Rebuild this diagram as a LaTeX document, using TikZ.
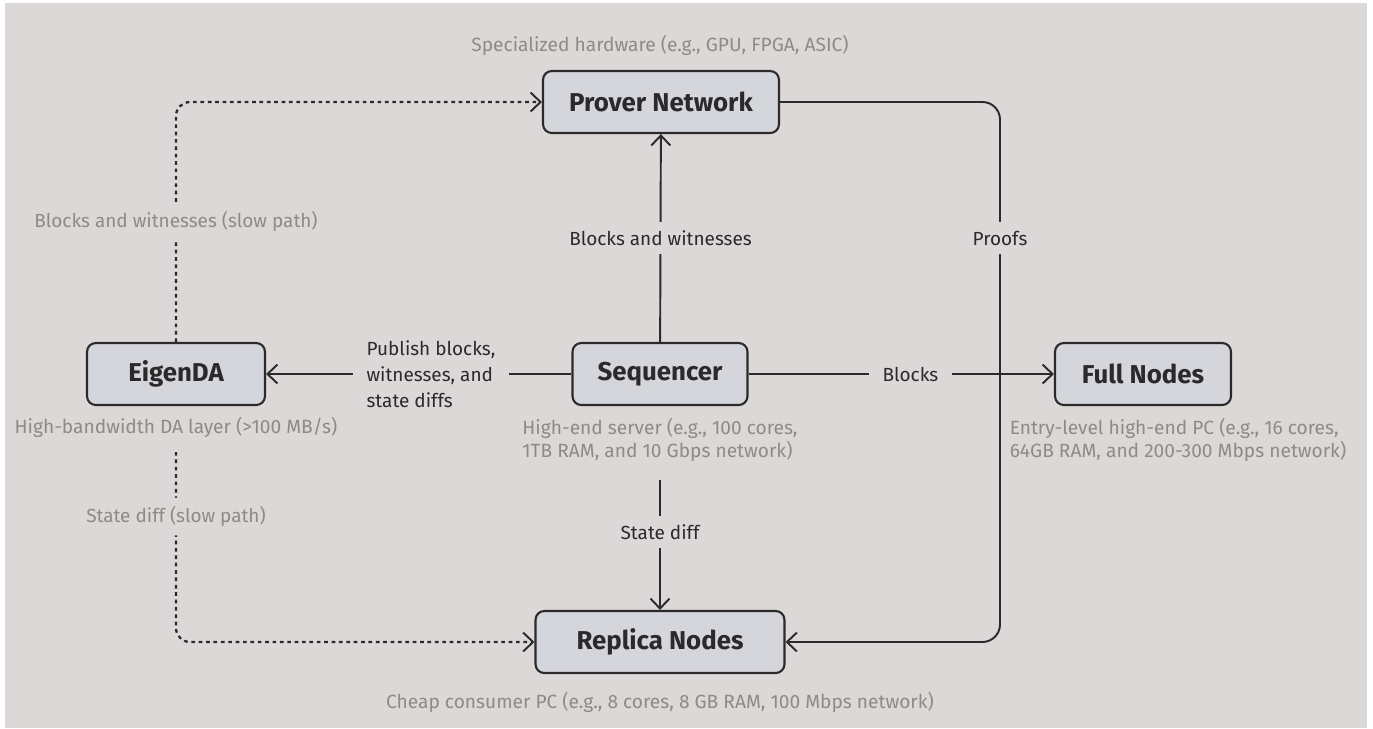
\documentclass[tikz,border=0pt]{standalone}
\usepackage{fontspec}
\setmainfont{Fira Sans}
\usetikzlibrary{arrows.meta}

\definecolor{bg}{HTML}{DCD8D7}
\definecolor{boxfill}{HTML}{D5D5DC}
\definecolor{ink}{HTML}{2A2A2A}
\definecolor{note}{HTML}{8E8A8A}

\begin{document}
\begin{tikzpicture}[
            x=0.02cm, y=-0.02cm,
            main node/.style={draw=ink, fill=boxfill, line width=1.2pt, rounded corners=5pt,
                minimum height=1.24cm, font=\fontsize{14.7}{17}\selectfont\bfseries, text=ink},
            note/.style={text=note, font=\fontsize{10.9}{13}\selectfont, inner sep=1pt},
            lbl/.style={fill=bg, text=ink, font=\fontsize{10.8}{14.8}\selectfont, inner sep=5pt},
            link/.style={draw=ink, line width=1.1pt, -{Straight Barb[length=2mm, width=3.8mm, line width=1.1pt]}},
            slow/.style={link, line width=1.3pt, dash pattern=on 2.1pt off 2.1pt, rounded corners=8pt},
            ]
            % canvas
            \fill[white] (0,0) rectangle (1373,728);
            \fill[bg] (5,3) rectangle (1367,728);
            \useasboundingbox (0,0) rectangle (1373,728);

            \node[main node, minimum width=4.72cm] (prover) at (661,102) {Prover Network};
            \node[main node, minimum width=3.56cm] (eigen) at (176,374) {EigenDA};
            \node[main node, minimum width=3.5cm] (seq) at (660,374) {Sequencer};
            \node[main node, minimum width=3.52cm] (full) at (1143,374) {Full Nodes};
            \node[main node, minimum width=4.98cm] (replica) at (660,642) {Replica Nodes};

            \node[note] (proverdesc) at (660,45) {Specialized hardware (e.g., GPU, FPGA, ASIC)};
            \node[note] (eigendesc) at (176,427) {High-bandwidth DA layer (>100 MB/s)};
            \node[note, align=left] (seqdesc) at (660,440) {High-end server (e.g., 100 cores,\\1TB RAM, and 10 Gbps network)};
            \node[note, align=left] (fulldesc) at (1178,440) {Entry-level high-end PC (e.g., 16 cores,\\64GB RAM, and 200-300 Mbps network)};
            \node[note] (replicadesc) at (660,702) {Cheap consumer PC (e.g., 8 cores, 8 GB RAM, 100 Mbps network)};

            \coordinate (eigenbot) at (176,452);
            \coordinate (seqbot) at (660,480);
            \coordinate (bend) at (1000,374);

            \draw[link] (seq) -- node[lbl] {Blocks and witnesses} (prover);
            \draw[link] (seq) -- node[lbl, align=left, pos=0.46, inner sep=8pt] {Publish blocks,\\witnesses, and\\state diffs} (eigen);
            \draw[link] (seq) -- node[lbl, pos=0.53, inner sep=8pt] {Blocks} (full);
            \draw[link] (seqbot) -- node[lbl, pos=0.4] {State diff} (replica);
            \draw[link, rounded corners=10pt] (prover) -| node[lbl, pos=0.75] {Proofs} (bend) |- (replica);

            \draw[slow] (eigen) |- node[lbl, text=note, pos=0.25] {Blocks and witnesses (slow path)} (prover);
            \draw[slow] (eigenbot) |- node[lbl, text=note, pos=0.17] {State diff (slow path)} (replica);
        \end{tikzpicture}
\end{document}
